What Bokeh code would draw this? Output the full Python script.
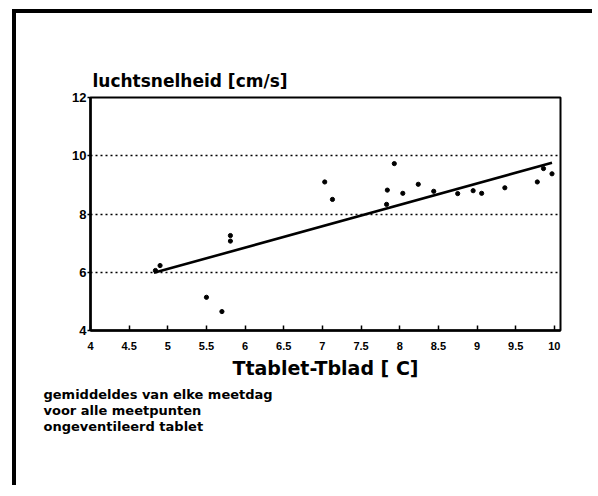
from bokeh.plotting import figure
from bokeh.models import FixedTicker, Range1d, Title
from bokeh.embed import file_html
from bokeh.resources import INLINE

# ---- data ----
x_vals = [4.84, 4.90, 5.50, 5.70, 5.81, 5.81, 7.03, 7.13, 7.83, 7.84, 7.93,
          8.04, 8.24, 8.44, 8.75, 8.95, 9.06, 9.36, 9.78, 9.86, 9.97]
y_vals = [6.06, 6.23, 5.14, 4.65, 7.26, 7.07, 9.10, 8.50, 8.33, 8.82, 9.73,
          8.71, 9.02, 8.78, 8.70, 8.80, 8.71, 8.90, 9.10, 9.56, 9.38]
fit_x = [4.82, 9.97]
fit_y = [5.98, 9.76]

x_ticks = [4, 4.5, 5, 5.5, 6, 6.5, 7, 7.5, 8, 8.5, 9, 9.5, 10]
x_tick_labels = ["4", "4.5", "5", "5.5", "6", "6.5", "7", "7.5", "8", "8.5", "9", "9.5", "10"]
y_ticks = [4, 6, 8, 10, 12]
y_tick_labels = ["4", "6", "8", "10", "12"]

title_text = "luchtsnelheid [cm/s]"
x_label = "Ttablet-Tblad [ C]"
notes = ["gemiddeldes van elke meetdag", "voor alle meetpunten", "ongeventileerd tablet"]

p = figure(width=580, height=476, output_backend="svg", toolbar_location=None,
           x_range=Range1d(4, 10.08), y_range=Range1d(4, 12),
           min_border_left=74, min_border_right=36, min_border_top=84,
           min_border_bottom=159, title=None)
p.styles = {"border-left": "4px solid black", "border-top": "4px solid black",
            "margin-left": "12px", "margin-top": "9px"}

p.background_fill_color = "white"
p.border_fill_color = "white"
p.outline_line_color = "black"
p.outline_line_width = 2

p.xgrid.visible = False
p.ygrid.grid_line_color = "black"
p.ygrid.grid_line_dash = "2 3"
p.ygrid.grid_line_width = 1.3

tick_font = "Liberation Sans"
xa = p.xaxis[0]
xa.ticker = FixedTicker(ticks=x_ticks)
xa.major_label_overrides = dict(zip(x_ticks, x_tick_labels))
xa.minor_tick_line_color = None
xa.major_tick_in = 5
xa.major_tick_out = 0
xa.axis_line_width = 2.5
xa.major_tick_line_width = 1.5
xa.major_label_text_font = tick_font
xa.major_label_text_font_style = "bold"
xa.major_label_text_font_size = "11px"
xa.major_label_text_color = "black"
xa.major_label_standoff = 11
xa.axis_label = x_label
xa.axis_label_text_font = "DejaVu Sans"
xa.axis_label_text_font_style = "bold"
xa.axis_label_text_font_size = "19px"
xa.axis_label_text_color = "black"
xa.axis_label_standoff = 4

ya = p.yaxis[0]
ya.ticker = FixedTicker(ticks=y_ticks)
ya.major_label_overrides = dict(zip(y_ticks, y_tick_labels))
ya.minor_tick_line_color = None
ya.major_tick_in = 0
ya.major_tick_out = 3
ya.axis_line_width = 2.5
ya.major_tick_line_width = 1.5
ya.major_label_text_font = tick_font
ya.major_label_text_font_style = "bold"
ya.major_label_text_font_size = "13px"
ya.major_label_text_color = "black"
ya.major_label_standoff = 1

p.line(fit_x, fit_y, line_color="black", line_width=2.6)
p.scatter(x_vals, y_vals, size=4.2, color="black")

# small spacer between frame and title
p.add_layout(Title(text=" ", standoff=0, text_font_size="4px"), "above")
p.add_layout(Title(text=title_text, align="left", offset=2, standoff=0,
                   text_font="DejaVu Sans", text_font_style="bold",
                   text_font_size="17px", text_color="black"), "above")

p.add_layout(Title(text="\n".join(notes), align="left", offset=-47, standoff=6,
                   text_font="DejaVu Sans", text_font_style="bold",
                   text_font_size="13px", text_line_height=1.05,
                   text_color="black"), "below")

open("out.html", "w").write(file_html(p, INLINE))
